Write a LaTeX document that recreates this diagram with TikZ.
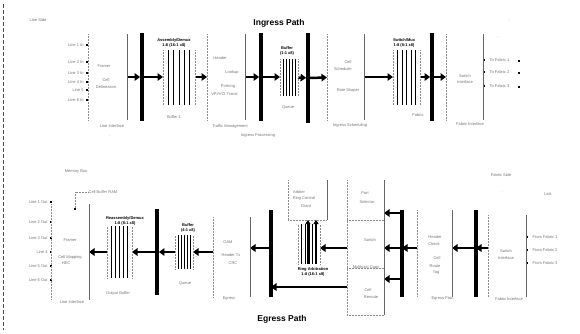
\documentclass[tikz,border=0pt]{standalone}
\usepackage{fontspec}
\setmainfont{Liberation Sans}
\usetikzlibrary{arrows.meta,calc}

\tikzset{
  box/.style={inner sep=0pt, outer sep=0pt},
  slats/.style={inner sep=0pt, outer sep=0pt},
  bus/.style={fill=black, inner sep=0pt, outer sep=0pt, minimum width=3.8pt},
  flow/.style={line width=2.5pt, -{Triangle[length=5.5pt,width=7.5pt]}},
  upflow/.style={line width=1.6pt, -{Triangle[length=4pt,width=5pt]}},
  sideL/.style={black!45, densely dotted, line width=0.5pt},
  sideR/.style={black!60, line width=0.9pt},
  lbl/.style={font=\fontsize{4}{4.8}\selectfont, text=black!55, inner sep=0.3pt},
  hdr/.style={font=\fontsize{4}{4.6}\selectfont\bfseries, align=center, inner sep=0.3pt},
  title/.style={font=\fontsize{8.5}{10}\selectfont\bfseries},
  port/.style={fill=black, inner sep=0pt, minimum width=2.2pt, minimum height=2.6pt}
}

\begin{document}
\begin{tikzpicture}[x=1pt,y=-1pt]
  \useasboundingbox (0,0) rectangle (580,333);

  % Page edge
  \draw[black!70, line width=1pt, dash pattern=on 4pt off 2pt] (3,4) -- (3,330);

  % ---------------- Ingress path ----------------
  \node[title] (ititle) at (279,23) {Ingress Path};
  \node[lbl] (iside) at (38,20) {Line Side};

  % Units and buses
  \node[box, minimum width=39, minimum height=86] (il) at (107.5,77) {};
  \node[bus, minimum height=88] (ib1) at (142,77) {};
  \node[slats, minimum width=32, minimum height=55] (ih1) at (179,77) {};
  \node[box, minimum width=38, minimum height=86] (iq) at (226,77) {};
  \node[bus, minimum height=88] (ib2) at (261,77) {};
  \node[slats, minimum width=18, minimum height=37] (ih2) at (289,77) {};
  \node[bus, minimum height=90] (ib3) at (308,78) {};
  \node[box, minimum width=37, minimum height=86] (is) at (345.5,77) {};
  \node[slats, minimum width=27, minimum height=55] (ih3) at (406.5,77) {};
  \node[bus, minimum height=88] (ib4) at (432,77) {};
  \node[box, minimum width=37, minimum height=86] (if) at (464.5,77) {};

  % Flow through the ingress path
  \draw[flow] (il) -- (ib1);
  \draw[flow] (ib1) -- (ih1);
  \draw[flow] (ih1) -- (iq);
  \draw[flow] (iq) -- (ib2);
  \draw[flow] (ib2) -- (ih2);
  \draw[flow] (ih2) -- (ib3);
  \draw[flow] (ib3) -- (is);
  \draw[flow] (is) -- (ih3);
  \draw[flow] (ih3) -- (ib4);
  \draw[flow] (ib4) -- (if);

  % Line ports
  \foreach \y/\t [count=\k] in {45/Line 1 In, 62/Line 2 In, 73/Line 3 In, 82/Line 4 In, 90/Line 5, 100/Line 6 In}{
    \node[lbl, anchor=east] (ilp\k) at (84,\y) {\t};
    \node[port] (ilm\k) at (87,\y) {};
  }
  \foreach \y/\t [count=\k] in {60/To Fabric 1, 72/To Fabric 2, 86/To Fabric 3}{
    \node[port] (ifm\k) at (484,\y) {};
    \node[lbl, anchor=west] (ifp\k) at (489,\y) {\t};
    \node[port] (ifs\k) at (519,\y+1) {};
  }
  \node[lbl] (itr1) at (510,21) {,};
  \node[lbl] (itr2) at (498,38) {'};

  % Ingress texts
  \node[lbl] (il1) at (104,66) {Framer};
  \node[lbl] (il2) at (106,80) {Cell};
  \node[lbl] (il3) at (106,87) {Delineation};
  \node[lbl] (il4) at (112,126) {Line Interface};
  \node[lbl] (il5) at (110,136) {.};
  \node[hdr] (ih1t) at (174,43) {Assembly/Demux\\1:8 (16:1 x8)};
  \node[lbl] (ih1b) at (174,117) {Buffer 1};
  \node[lbl] (iq1) at (220,58) {Header};
  \node[lbl] (iq2) at (232,72) {Lookup};
  \node[lbl] (iq3) at (228,86) {Policing};
  \node[lbl] (iq4) at (225,94) {VPI/VCI Transl.};
  \node[lbl] (iq5) at (230,126) {Traffic Management};
  \node[lbl] (iq6) at (258,135) {Ingress Processing};
  \node[hdr] (ih2t) at (287,51) {Buffer\\(1:1 x8)};
  \node[lbl] (ih2b) at (288,107) {Queue};
  \node[lbl] (is1) at (348,62) {Cell};
  \node[lbl] (is2) at (343,69) {Scheduler};
  \node[lbl] (is3) at (348,90) {Rate Shaper};
  \node[lbl] (is4) at (350,125) {Ingress Scheduling};
  \node[hdr] (ih3t) at (404,43) {Switch/Mux\\1:8 (8:1 x8)};
  \node[lbl] (ih3b) at (418,115) {Fabric};
  \node[lbl] (if1) at (465,76) {Switch};
  \node[lbl] (if2) at (465,82) {Interface};
  \node[lbl] (if3) at (470,124) {Fabric Interface};

  % ---------------- Egress path ----------------
  \node[title] (etitle) at (282,319) {Egress Path};

  % Units and buses
  \node[box, minimum width=38, minimum height=96] (el) at (70,252) {};
  \node[slats, minimum width=25, minimum height=52] (eh1) at (119.5,252) {};
  \node[bus, minimum height=86] (eb1) at (157,252) {};
  \node[slats, minimum width=18, minimum height=34] (eh2) at (184,252) {};
  \node[box, minimum width=37, minimum height=80] (em) at (231.5,257) {};
  \node[bus, minimum height=87] (eb2) at (271,253.5) {};
  \node[box, minimum width=39, minimum height=40] (ea) at (307.5,200) {};
  \node[slats, minimum width=22, minimum height=40] (ehr) at (309,244) {};
  \node[box, minimum width=37, minimum height=135] (ec) at (365.5,247.5) {};
  \node[bus, minimum height=87] (eb3) at (402,253.5) {};
  \node[box, minimum width=35, minimum height=87] (er2) at (434.5,253.5) {};
  \node[bus, minimum height=87] (eb4) at (476,253.5) {};
  \node[box, minimum width=38, minimum height=82] (er3) at (507,256) {};

  \coordinate (lvl) at (0,248);
  \coordinate (ret) at (347,287);
  \coordinate (ecp1) at (384,213);
  \coordinate (ecp3) at (384,279);

  % Flow through the egress path
  \draw[flow] (er3.west |- lvl) -- (eb4 |- lvl);
  \draw[flow] (eb4 |- lvl) -- (er2.east |- lvl);
  \draw[flow] (er2.west |- lvl) -- (eb3 |- lvl);
  \draw[flow] (eb3 |- ecp1) -- (ecp1);
  \draw[flow] (eb3 |- lvl) -- (ec.east |- lvl);
  \draw[flow] (eb3 |- ecp3) -- (ecp3);
  \draw[flow] (ec.west |- lvl) -- (ehr.east |- lvl);
  \draw[flow] (ret) -- (eb2 |- ret);
  \draw[flow] (eb2 |- lvl) -- (em.east |- lvl);
  \draw[flow] (em.west |- eh2) -- (eh2);
  \draw[flow] (eh2) -- (eb1);
  \draw[flow] (eb1) -- (eh1);
  \draw[flow] (eh1) -- (el);

  % Line ports
  \foreach \y/\t [count=\k] in {202/Line 1 Out, 222/Line 2 Out, 238/Line 3 Out, 252/Line 4, 266/Line 5 Out, 280/Line 6 Out}{
    \node[lbl, anchor=east] (elp\k) at (48,\y) {\t};
    \node[port] (elm\k) at (51,\y) {};
  }
  \foreach \y/\t [count=\k] in {237/From Fabric 1, 250/From Fabric 2, 263/From Fabric 3}{
    \node[port] (erm\k) at (527,\y) {};
    \node[lbl, anchor=west] (erp\k) at (532,\y) {\t};
  }

  % Egress texts
  \node[lbl] (eu1) at (76,172) {Memory Bus};
  \node[lbl] (eu2) at (103,192) {Cell Buffer RAM};
  \node[port] (eu3) at (75,209) {};
  \draw[sideL] (eu2) -| (eu3);
  \node[lbl] (el1) at (70,240) {Framer};
  \node[lbl] (el2) at (70,257) {Cell Mapping};
  \node[lbl] (el3) at (66,263) {HEC};
  \node[lbl] (el4) at (72,302) {Line Interface};
  \node[hdr] (eh1t) at (125,221) {Reassembly/Demux\\1:8 (8:1 x8)};
  \node[lbl] (eh1b) at (118,293) {Output Buffer};
  \node[hdr] (eh2t) at (188,228) {Buffer\\(4:1 x8)};
  \node[lbl] (eh2b) at (185,283) {Queue};
  \node[lbl] (em1) at (228,242) {OAM};
  \node[lbl] (em2) at (231,255) {Header Tx};
  \node[lbl] (em3) at (233,263) {CRC};
  \node[lbl] (em4) at (229,299) {Egress};
  \node[lbl] (ea1) at (299,192) {Arbiter};
  \node[lbl] (ea2) at (304,198) {Ring Control};
  \node[lbl] (ea3) at (306,206) {Grant};
  \node[hdr] (ehrt) at (313,272) {Ring Arbitration\\1:8 (16:1 x8)};
  \node[lbl] (ec1) at (365,193) {Port};
  \node[lbl] (ec2) at (367,202) {Selector};
  \node[lbl] (ec3) at (370,240) {Switch};
  \node[lbl] (ec4) at (366,267) {Multicast Copy};
  \node[lbl] (ec5) at (368,290) {Cell};
  \node[lbl] (ec6) at (371,297) {Reroute};
  \node[lbl] (er21) at (435,237) {Header};
  \node[lbl] (er22) at (434,244) {Check};
  \node[lbl] (er23) at (437,258) {Cell};
  \node[lbl] (er24) at (435,266) {Route};
  \node[lbl] (er25) at (436,273) {Tag};
  \node[lbl] (er26) at (443,299) {Egress Proc.};
  \node[lbl] (er31) at (506,251) {Switch};
  \node[lbl] (er32) at (506,258) {Interface};
  \node[lbl] (er33) at (509,299) {Fabric Interface};
  \node[lbl] (etr1) at (501,175) {Fabric Side};
  \node[lbl] (etr2) at (548,194) {Link};
  \node[lbl] (etr3) at (503,192) {.};

  % Unit sides: dotted left, solid right
  \foreach \b in {il,iq,is,if,el,em,ea,ec,er2,er3}{
    \draw[sideL] (\b.north west) -- (\b.south west);
    \draw[sideR] (\b.north east) -- (\b.south east);
  }
  \draw[sideL] (ea.south west) -- (ea.south east);
  \draw[sideL] (ec.west |- ea.south) -- (ec.east |- ea.south);
  \draw[sideL] ($(ec.north west)!0.65!(ec.south west)$) -- ($(ec.north east)!0.65!(ec.south east)$);
  \draw[sideL] (ec.south west) -- (ec.south east);

  % Slatted buffers
  \foreach \h in {ih1,ih2,ih3,eh1,eh2,ehr}{
    \draw[sideL] (\h.south west) -- (\h.north west);
    \foreach \i in {1,...,5}
      \draw[line width=0.9pt] ($(\h.south west)!\i/6!(\h.south east)$) -- ($(\h.north west)!\i/6!(\h.north east)$);
    \draw[sideL] (\h.south east) -- (\h.north east);
  }

  % Grants up to the arbiter
  \draw[upflow] ($(ehr.south west)!0.45!(ehr.south east)$) coordinate (u1) -- (u1 |- ea.south);
  \draw[upflow] ($(ehr.south west)!0.82!(ehr.south east)$) coordinate (u2) -- (u2 |- ea.south);
\end{tikzpicture}
\end{document}
